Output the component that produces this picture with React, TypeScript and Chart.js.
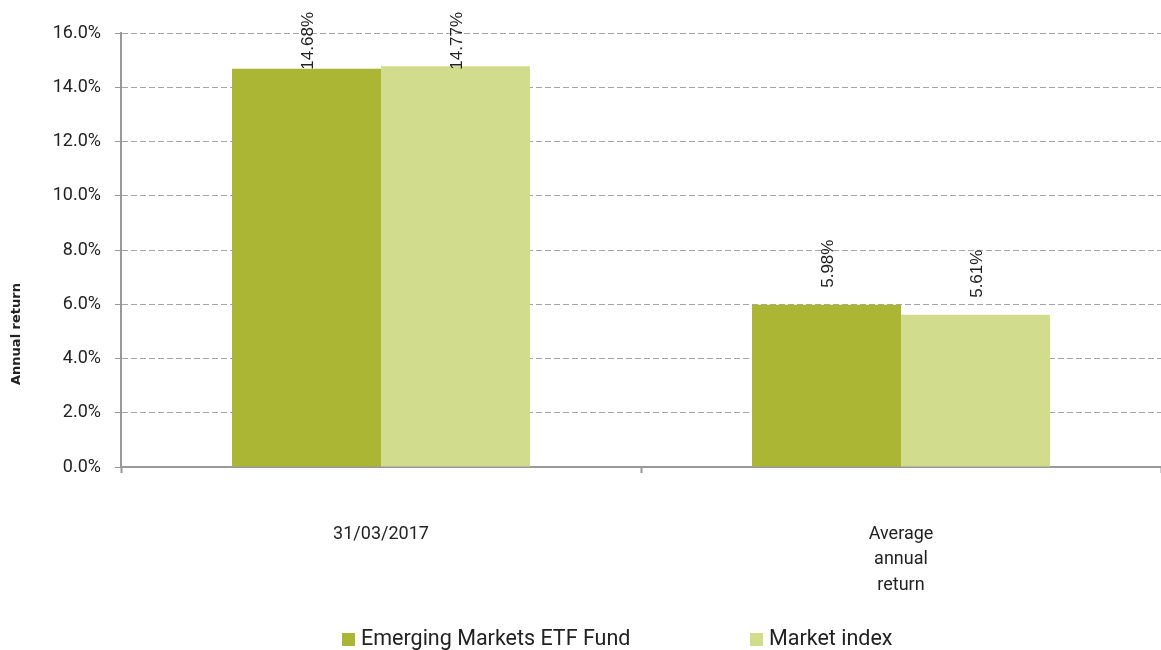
import React, { useEffect, useRef } from "react";
import { Chart, registerables } from "chart.js";

Chart.register(...registerables);

const categories: (string | string[])[] = ["31/03/2017", ["Average", "annual", "return"]];
const fundValues = [14.68, 5.98];
const indexValues = [14.77, 5.61];
const seriesNames = ["Emerging Markets ETF Fund", "Market index"];
const seriesColors = ["#abb634", "#d1dc8c"];
const yTicks = [0, 2, 4, 6, 8, 10, 12, 14, 16];
const yTitle = "Annual return";

const valueLabelPlugin = {
  id: "valueLabels",
  afterDatasetsDraw(chart: any) {
    const ctx = chart.ctx;
    ctx.save();
    ctx.font = "17px 'Liberation Sans', Arial, sans-serif";
    ctx.fillStyle = "#222";
    ctx.textAlign = "left";
    ctx.textBaseline = "middle";
    chart.data.datasets.forEach((ds: any, di: number) => {
      const meta = chart.getDatasetMeta(di);
      meta.data.forEach((bar: any, i: number) => {
        const text = Number(ds.data[i]).toFixed(2) + "%";
        const w = ctx.measureText(text).width;
        let y = bar.y - 17;
        if (y - w < 12) y = 12 + w;
        ctx.save();
        ctx.translate(bar.x + 2, y);
        ctx.rotate(-Math.PI / 2);
        ctx.fillText(text, 0, 0);
        ctx.restore();
      });
    });
    ctx.restore();
  },
};

const extrasPlugin = {
  id: "extras",
  afterDraw(chart: any) {
    const ctx = chart.ctx;
    ctx.save();
    // y-axis title
    ctx.font = "bold 13px 'DejaVu Sans', sans-serif";
    ctx.fillStyle = "#222";
    ctx.textAlign = "center";
    ctx.textBaseline = "middle";
    ctx.translate(17, 334);
    ctx.rotate(-Math.PI / 2);
    ctx.fillText(yTitle, 0, 0);
    ctx.restore();

    // legend
    ctx.save();
    const legendX = [342, 750];
    const cy = 640;
    ctx.font = "21.5px Roboto, sans-serif";
    ctx.textAlign = "left";
    ctx.textBaseline = "middle";
    chart.data.datasets.forEach((ds: any, i: number) => {
      const x = legendX[i];
      ctx.fillStyle = ds.backgroundColor;
      ctx.fillRect(x, cy - 7, 13, 13);
      ctx.fillStyle = "#222";
      ctx.fillText(ds.label, x + 19, cy);
    });
    ctx.restore();
  },
};

export default function App() {
  const ref = useRef<HTMLCanvasElement | null>(null);
  useEffect(() => {
    if (!ref.current) return;
    const chart = new Chart(ref.current, {
      type: "bar",
      data: {
        labels: categories as any,
        datasets: [
          {
            label: seriesNames[0],
            data: fundValues,
            backgroundColor: seriesColors[0],
            categoryPercentage: 0.573,
            barPercentage: 1,
          },
          {
            label: seriesNames[1],
            data: indexValues,
            backgroundColor: seriesColors[1],
            categoryPercentage: 0.573,
            barPercentage: 1,
          },
        ],
      },
      options: {
        animation: false,
        responsive: false,
        maintainAspectRatio: false,
        layout: { padding: { top: 33, left: 0, right: 0, bottom: 53 } },
        plugins: {
          legend: { display: false },
          tooltip: { enabled: false },
          title: { display: false },
        },
        scales: {
          x: {
            afterFit: (scale: any) => {
              scale.height = 130;
            },
            grid: {
              display: true,
              drawOnChartArea: false,
              drawTicks: true,
              tickLength: 6,
              tickColor: "#999",
              tickWidth: 2,
              color: "#999",
            },
            border: { display: true, color: "#999", width: 2 },
            ticks: {
              padding: 49,
              color: "#222",
              font: { family: "Roboto", size: 18, lineHeight: 1.4 },
              maxRotation: 0,
              autoSkip: false,
            },
          },
          y: {
            min: 0,
            max: 16,
            afterFit: (scale: any) => {
              scale.width = 121;
            },
            afterBuildTicks: (scale: any) => {
              scale.ticks = yTicks.map((v) => ({ value: v }));
            },
            grid: {
              color: "#a6a6a6",
              lineWidth: 1,
              tickLength: 6,
              tickColor: "#999",
              tickWidth: 1,
            },
            border: { display: true, color: "#999", width: 2, dash: [6, 3] },
            ticks: {
              padding: 14,
              color: "#222",
              font: { family: "Roboto", size: 18 },
              callback: (v: any) => Number(v).toFixed(1) + "%",
            },
          },
        },
      },
      plugins: [valueLabelPlugin, extrasPlugin],
    });
    return () => chart.destroy();
  }, []);
  return (
    <div style={{ position: "absolute", left: 0, top: 0, width: 1161, height: 650, background: "#fff" }}>
      <canvas ref={ref} width={1161} height={650} style={{ display: "block", width: 1161, height: 650 }} />
    </div>
  );
}
